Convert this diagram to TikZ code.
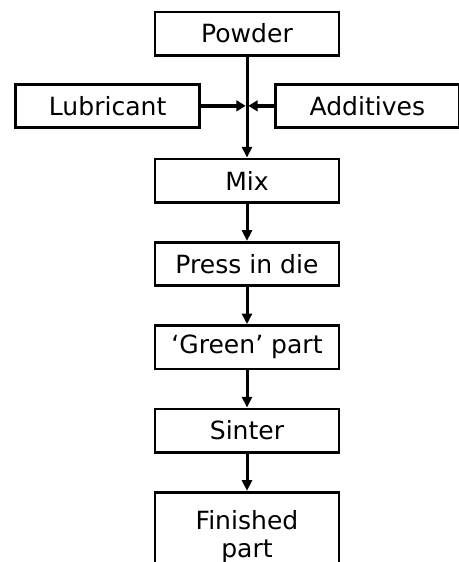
\documentclass[tikz,border=0pt]{standalone}
\usepackage{fontspec}
\setmainfont{DejaVu Sans}
\usetikzlibrary{arrows.meta,positioning}

\begin{document}
\begin{tikzpicture}[x=0.75pt, y=-0.75pt,
  node distance = 28pt,
  box/.style  = {rectangle, draw, line width=2pt,
                 minimum width=138pt, minimum height=32.5pt,
                 inner sep=0pt, align=center,
                 font=\fontsize{18.8}{21}\selectfont},
  arr/.style  = {-{Triangle[length=8pt,width=7.5pt]}, line width=2.25pt},
  feed/.style = {-{Triangle[length=7pt,width=8pt]}, line width=3pt,
                 shorten >=1pt}
]
\useasboundingbox (0,0) rectangle (459,562);

% ,  Inputs (top) ,
\node[box] (powder) at (247,33.5) {Powder};
\coordinate[below=37pt of powder.south] (join);
\node[box, left=34.5pt of join]   (lubricant) {Lubricant};
\node[box, right=20.25pt of join] (additives) {Additives};

% ,  Process column ,
\node[box, below=75.75pt of powder] (mix)      {Mix};
\node[box, below=of mix]            (press)    {Press in die};
\node[box, below=of press]          (green)    {‘Green’ part};
\node[box, below=of green]          (sinter)   {Sinter};
\node[box, below=of sinter, minimum height=66pt] (finished) {Finished\\part};

% ,  Arrows: inputs into mix ,
\draw[arr]  (powder)    -- (mix);
\draw[feed] (lubricant) -- (join);
\draw[feed] (additives) -- (join);

% ,  Arrows: process steps ,
\draw[arr] (mix)    -- (press);
\draw[arr] (press)  -- (green);
\draw[arr] (green)  -- (sinter);
\draw[arr] (sinter) -- (finished);

\end{tikzpicture}
\end{document}
